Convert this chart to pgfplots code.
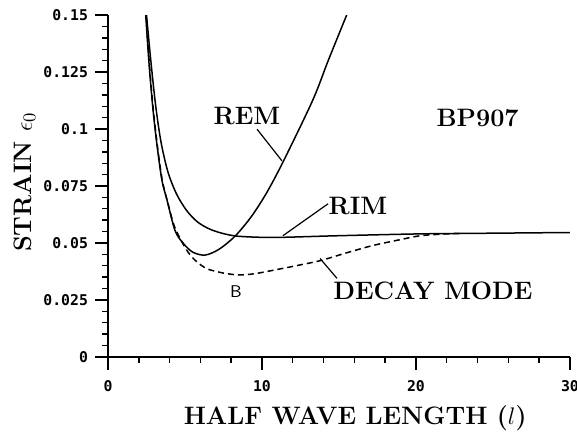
\documentclass[border=0pt]{standalone}
\usepackage{fontspec}
\usepackage{pgfplots}
\pgfplotsset{compat=1.18}
\newfontfamily\tickfont{DejaVu Sans Mono}
\newcommand{\lblfont}{\fontsize{12.6}{15}\selectfont\bfseries}
\begin{document}
\begin{tikzpicture}
\begin{axis}[
  scale only axis, width=231pt, height=171pt,
  xmin=0, xmax=30, ymin=0, ymax=0.15,
  axis lines=left, axis line style={-, line width=0.9pt},
  xtick={0,10,20,30}, xticklabels={0,10,20,30},
  ytick={0,0.025,0.05,0.075,0.1,0.125,0.15},
  yticklabels={0,0.025,0.05,0.075,0.1,0.125,0.15},
  minor x tick num=4, minor y tick num=4,
  tick align=outside, major tick length=6.5pt, minor tick length=3pt,
  tick style={black, line width=0.7pt},
  ticklabel style={font=\fontsize{7.4}{9}\selectfont\tickfont\bfseries},
  xticklabel style={yshift=-1.5pt},
  xlabel={HALF WAVE LENGTH ($l$)},
  ylabel={STRAIN $\epsilon_0$},
  xlabel style={at={(axis description cs:0.535,-0.178)}, anchor=center, font=\lblfont},
  ylabel style={at={(axis description cs:-0.18,0.512)}, anchor=center, font=\lblfont},
  clip mode=individual,
]
% REM
\addplot[black, line width=0.75pt, smooth, tension=0.5] coordinates {
(2.45,0.15) (2.65,0.13) (2.9,0.11) (3.18,0.093) (3.5,0.0776) (3.83,0.0689)
(4.35,0.0555) (4.87,0.050) (5.5,0.046) (6.3,0.0447) (7.2,0.0472) (8.25,0.053)
(9.3,0.0615) (10.3,0.072) (11.4,0.086) (13.3,0.1127) (14.3,0.13) (15.5,0.15)
};
% RIM
\addplot[black, line width=0.75pt, smooth, tension=0.5] coordinates {
(2.5,0.15) (2.78,0.13) (3.1,0.11) (3.45,0.094) (3.9,0.081) (4.45,0.0715)
(5.1,0.0643) (5.8,0.0593) (6.6,0.0561) (7.5,0.0541) (8.4,0.053) (9.9,0.0525)
(11.4,0.0525) (15,0.0532) (20.3,0.054) (25,0.0543) (30,0.0546)
};
% DECAY MODE
\addplot[black, line width=0.75pt, dash pattern=on 3pt off 2pt, smooth, tension=0.5] coordinates {
(2.47,0.15) (2.67,0.13) (2.92,0.11) (3.2,0.093) (3.52,0.0776) (3.85,0.0685)
(4.3,0.0575) (4.8,0.0505) (5.2,0.046) (5.6,0.0428) (6.0,0.0405) (6.5,0.0385)
(7.5,0.0368) (8.5,0.036) (9.5,0.0365) (10.7,0.038) (12.2,0.040) (13.8,0.0423)
(15.5,0.0457) (17.2,0.0489) (19,0.0515) (20.3,0.0532) (22,0.054) (23,0.0541)
};
\node[font=\lblfont] at (axis cs:9.03,0.1056) {REM};
\node[font=\lblfont] at (axis cs:24.0,0.1047) {BP907};
\node[font=\lblfont] at (axis cs:16.23,0.0663) {RIM};
\node[font=\lblfont] at (axis cs:21.1,0.0292) {DECAY MODE};
\node[font=\fontsize{8.5}{10}\selectfont\sffamily] at (axis cs:8.31,0.0288) {B};
\draw[line width=0.6pt] (axis cs:9.68,0.0999) -- (axis cs:11.3,0.086);
\draw[line width=0.6pt] (axis cs:14.29,0.0672) -- (axis cs:11.36,0.0532);
\draw[line width=0.6pt] (axis cs:13.77,0.0432) -- (axis cs:14.87,0.0345);
\coordinate (bbl) at (rel axis cs:-0.2338,-0.2193);
\coordinate (btr) at (rel axis cs:1.0152,1.0439);
\end{axis}
\pgfresetboundingbox
\useasboundingbox (bbl) rectangle (btr);
\end{tikzpicture}
\end{document}
